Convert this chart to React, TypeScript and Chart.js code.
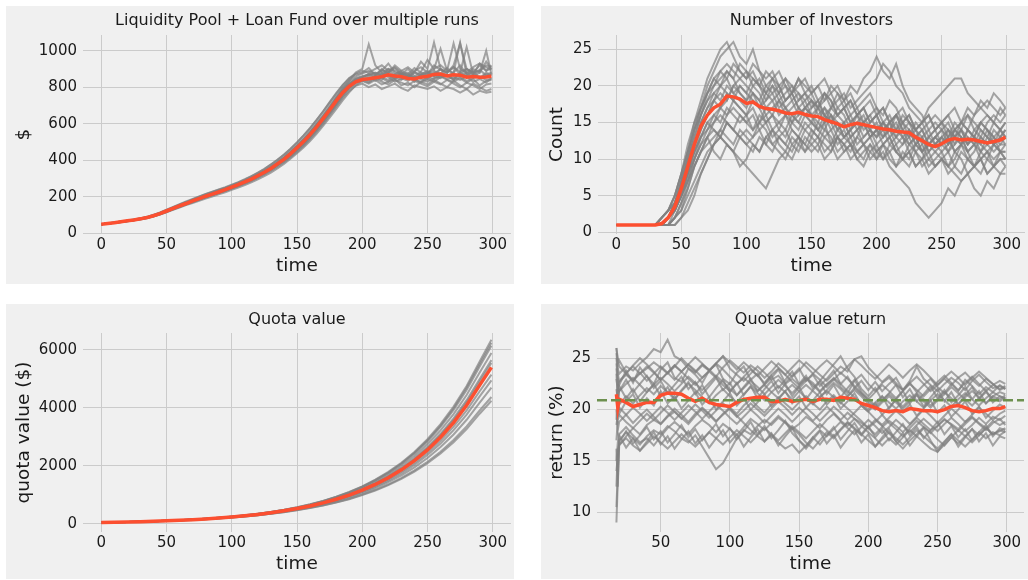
import React, { useEffect, useRef } from "react";
import { Chart, registerables } from "chart.js";

Chart.register(...registerables);

// ---------- time axes and ticks ----------
const timeSteps = [0,5,10,15,20,25,30,35,40,45,50,55,60,65,70,75,80,85,90,95,100,105,110,115,120,125,130,135,140,145,150,155,160,165,170,175,180,185,190,195,200,205,210,215,220,225,230,235,240,245,250,255,260,265,270,275,280,285,290,295,299];
const quotaTimeSteps = [0,10,20,30,40,50,60,70,80,90,100,110,120,130,140,150,160,170,180,190,200,210,220,230,240,250,260,270,280,290,299];
const returnTimeSteps = [18,19,20,25,30,35,40,45,50,55,60,65,70,75,80,85,90,95,100,105,110,115,120,125,130,135,140,145,150,155,160,165,170,175,180,185,190,195,200,205,210,215,220,225,230,235,240,245,250,255,260,265,270,275,280,285,290,295,299];

const timeTicks = [0,50,100,150,200,250,300];
const returnTimeTicks = [50,100,150,200,250,300];
const poolTicks = [0,200,400,600,800,1000];
const investorTicks = [0,5,10,15,20,25];
const quotaTicks = [0,2000,4000,6000];
const returnTicks = [10,15,20,25];

// ---------- Liquidity Pool + Loan Fund ----------
const poolMean = [50,54,58,63,68,73,79,86,96,108,122,136,150,163,177,190,203,214,226,239,253,266,281,297,315,334,355,380,405,435,468,502,540,582,628,675,725,770,805,830,842,846,852,858,868,862,858,848,845,855,860,870,872,862,868,866,855,858,855,856,860];
const poolRuns = [
  [50,54,59,64,69,75,81,89,100,113,127,142,157,171,186,200,214,226,238,250,264,278,294,312,331,352,376,402,430,462,497,535,575,620,668,718,768,812,848,870,880,905,868,890,930,880,870,900,860,885,950,900,1010,890,880,920,870,900,880,940,900],
  [50,53,57,61,66,71,76,82,91,102,115,128,141,154,166,178,190,201,213,225,238,250,264,279,295,313,332,355,380,408,438,470,505,545,588,633,680,728,772,810,835,820,840,815,830,845,810,825,800,830,815,840,820,800,835,810,790,820,800,780,790],
  [50,54,58,63,68,74,80,87,97,110,124,139,154,168,181,194,208,222,235,247,258,270,284,300,318,337,360,386,412,443,476,512,552,596,642,690,742,792,835,880,900,1035,920,880,900,870,890,910,880,870,890,860,900,880,910,870,900,880,920,890,905],
  [50,53,58,62,67,72,78,85,95,106,119,133,147,161,175,188,201,212,223,235,248,262,277,293,311,330,350,374,398,426,458,492,528,568,612,658,706,754,796,826,850,830,860,900,870,850,880,860,830,870,880,860,850,870,840,880,860,890,850,870,880],
  [50,54,59,63,68,74,80,87,98,110,124,138,152,166,180,193,206,218,230,243,257,271,286,302,320,339,362,386,413,444,478,513,551,593,638,686,736,784,822,850,860,870,880,860,900,890,870,850,880,940,900,1045,900,880,920,1040,900,880,890,920,910],
  [50,54,58,62,67,72,78,85,94,105,118,132,146,159,172,185,198,210,221,233,246,259,273,289,306,325,346,370,394,421,452,485,522,562,606,652,700,748,790,822,835,850,845,870,855,830,845,860,840,830,855,845,860,840,830,850,825,845,810,835,840],
  [50,53,57,62,66,71,77,84,93,104,117,130,144,157,170,183,196,208,219,231,244,257,271,286,303,321,341,364,388,415,445,478,515,555,598,645,694,740,780,808,820,800,815,790,805,820,795,780,810,800,790,805,780,800,790,770,790,760,780,770,775],
  [50,54,59,64,69,75,82,90,101,114,129,144,159,174,188,202,215,228,240,252,266,280,296,313,332,353,377,403,431,463,498,536,577,621,667,716,764,810,850,875,890,880,900,920,890,910,880,860,890,910,880,900,920,890,1040,900,880,910,930,890,920],
  [50,54,58,63,68,73,79,86,96,108,121,135,149,162,176,189,202,213,225,238,252,266,281,298,316,336,358,383,409,440,473,508,547,590,636,684,734,780,818,842,855,870,850,880,865,845,870,880,850,865,875,890,870,860,880,1045,870,860,880,1000,870],
  [50,53,58,62,67,73,79,86,95,107,120,134,148,162,176,189,202,215,228,241,255,268,282,298,315,333,353,377,401,430,462,496,532,573,618,664,712,760,800,832,840,860,835,855,840,870,850,835,860,845,830,850,865,845,855,840,860,830,845,825,850],
  [50,54,58,63,68,73,80,87,97,109,123,137,151,165,179,192,205,217,229,242,256,270,285,301,319,339,361,386,412,442,476,511,550,592,637,685,735,782,818,845,858,865,878,870,885,860,875,868,852,870,862,880,875,905,870,860,880,870,895,865,868],
  [50,53,57,62,67,72,78,85,94,106,119,133,147,160,173,186,199,211,223,236,250,264,279,295,313,331,351,374,398,426,457,491,528,569,614,662,712,762,805,835,845,840,865,850,830,855,840,870,845,825,845,830,855,870,840,855,835,850,860,840,845],
  [50,54,58,63,68,73,79,86,96,108,122,136,150,164,178,191,204,216,228,241,255,269,284,300,318,337,358,382,407,437,470,505,543,585,630,678,728,775,812,838,850,875,860,840,880,905,870,850,885,860,845,875,900,860,845,880,1020,870,850,880,865],
  [50,53,57,62,66,71,77,84,93,104,117,131,145,158,171,184,197,209,221,233,247,261,276,292,310,329,349,373,397,425,456,490,527,568,613,661,711,760,800,828,836,825,850,830,815,840,825,810,835,820,805,830,815,840,820,800,825,810,790,815,820],
  [50,54,59,64,69,74,81,88,99,111,126,141,156,170,184,197,211,223,235,247,260,274,289,306,324,344,367,392,419,450,484,520,560,603,649,698,748,796,835,860,875,890,870,895,880,920,890,870,905,880,870,920,895,880,910,885,900,870,930,910,895],
];

// ---------- Number of Investors ----------
const investorMean = [1,1,1,1,1,1,1,1.2,2,3.5,6,9,12,14.5,16,17,17.5,18.6,18.5,18.2,17.6,17.8,17.2,16.9,16.8,16.6,16.3,16.2,16.4,16.1,15.9,15.8,15.4,15.1,14.8,14.4,14.7,14.9,14.7,14.5,14.3,14.1,14.0,13.8,13.7,13.6,13.0,12.5,12.0,11.7,12.1,12.6,12.8,12.6,12.7,12.6,12.4,12.2,12.4,12.6,13.0];
const investorRuns = [
  [1,1,1,1,1,1,1,2,3,5,8,11,15,18,21,23,25,26,24,22,21,22,20,19,21,20,18,19,17,18,16,17,15,16,14,15,13,14,12,13,14,12,13,11,12,13,11,12,10,11,12,13,11,12,10,11,13,12,11,12,12],
  [1,1,1,1,1,1,1,1,1,2,3,5,7,9,11,12,13,12,11,13,12,11,13,12,14,13,12,11,13,12,14,13,12,11,13,12,10,11,12,13,11,12,10,9,11,10,12,11,9,10,11,9,10,12,11,9,10,8,9,10,9],
  [1,1,1,1,1,1,1,1,2,3,5,8,11,13,15,14,13,12,11,10,9,8,7,6,8,10,11,13,12,14,15,14,16,15,13,14,12,13,15,14,13,15,14,13,12,14,13,11,12,13,14,12,13,15,14,13,12,14,13,11,12],
  [1,1,1,1,1,1,1,1,2,4,6,9,12,15,17,18,20,19,18,17,16,17,15,16,14,15,16,14,13,15,14,13,15,12,13,11,12,10,11,12,10,11,9,8,7,6,4,3,2,3,4,6,5,7,8,9,8,10,9,11,10],
  [1,1,1,1,1,1,1,1,1,3,5,8,12,15,17,19,18,20,19,18,17,19,18,16,17,18,16,17,18,19,17,18,16,17,19,18,20,19,21,22,24,22,21,23,20,18,17,16,14,15,14,13,15,14,12,13,15,14,13,14,13],
  [1,1,1,1,1,1,1,1,2,3,6,9,11,14,16,18,17,19,18,20,19,18,17,19,18,16,17,15,16,17,16,15,17,16,14,15,16,14,15,13,14,15,13,14,15,16,14,15,17,18,19,20,21,21,19,18,17,16,15,14,15],
  [1,1,1,1,1,1,1,2,3,4,6,8,10,12,13,11,10,12,11,9,10,12,11,13,12,11,10,12,11,13,12,11,13,12,10,11,12,10,9,11,10,12,11,9,10,11,9,10,11,9,10,8,9,11,10,9,10,8,9,8,9],
  [1,1,1,1,1,1,1,1,2,4,7,10,13,16,19,21,22,23,22,21,22,21,20,22,21,19,20,18,19,17,18,16,17,15,16,17,15,16,14,15,16,14,15,13,14,12,13,14,12,13,12,14,13,12,14,13,15,14,12,13,14],
  [1,1,1,1,1,1,1,1,1,1,2,4,6,8,10,12,14,16,17,16,15,16,14,15,16,14,13,15,14,16,15,14,13,14,12,13,14,12,13,14,12,13,14,12,13,11,12,13,11,12,13,11,12,14,13,12,11,13,12,14,13],
  [1,1,1,1,1,1,1,1,2,3,5,7,10,13,15,16,17,18,20,19,18,19,17,18,20,19,17,18,16,17,18,17,19,18,16,17,15,16,17,15,16,14,15,16,14,15,13,14,15,16,15,16,14,15,17,16,18,17,19,18,17],
  [1,1,1,1,1,1,1,1,2,4,7,11,14,17,20,22,24,25,26,24,23,25,22,21,22,20,21,19,20,21,19,20,18,19,17,18,16,17,15,16,17,15,14,16,15,13,14,12,13,14,12,13,11,12,13,12,10,11,12,13,12],
  [1,1,1,1,1,1,1,1,1,2,4,6,9,11,13,14,13,15,14,13,14,13,15,14,12,13,14,12,13,11,12,13,11,12,14,13,12,11,10,12,11,10,12,11,10,9,11,10,12,11,10,9,8,7,8,6,5,7,6,8,8],
  [1,1,1,1,1,1,1,2,3,5,8,11,14,16,18,19,20,21,19,20,19,21,20,18,19,20,18,19,21,19,20,18,19,17,18,19,17,18,19,20,21,23,22,20,19,17,16,15,16,14,15,13,14,15,16,14,15,16,15,17,16],
  [1,1,1,1,1,1,1,1,2,3,5,8,11,13,14,16,15,17,16,15,16,14,15,17,16,15,14,16,15,14,13,15,14,16,15,13,14,15,13,14,13,14,12,13,15,14,12,11,13,12,11,12,14,13,11,12,14,13,12,11,11],
  [1,1,1,1,1,1,1,2,3,4,6,9,12,14,16,18,19,18,20,21,20,19,18,20,19,17,18,19,17,16,17,18,16,15,17,16,14,15,16,14,15,13,14,15,13,12,13,11,12,13,12,11,13,12,14,13,12,11,10,11,10],
  [1,1,1,1,1,1,1,1,1,2,4,7,10,12,14,15,17,16,18,17,16,18,17,15,16,18,17,16,15,17,16,14,15,17,16,15,13,14,15,16,14,15,16,14,13,14,12,13,11,12,13,14,12,13,12,14,13,15,16,15,16],
  [1,1,1,1,1,1,1,1,2,3,6,10,13,16,18,20,21,22,21,23,22,20,21,19,20,18,19,20,18,19,18,17,19,18,16,17,18,16,17,15,16,17,15,14,16,15,14,13,14,12,13,12,14,13,11,12,13,12,14,13,14],
  [1,1,1,1,1,1,1,1,1,2,3,6,9,11,12,13,14,13,12,14,13,12,11,13,14,12,11,10,12,11,13,12,14,13,11,12,13,11,12,10,11,12,13,11,10,12,11,9,10,9,10,11,9,8,10,9,11,10,12,11,11],
  [1,1,1,1,1,1,1,2,3,5,8,12,15,17,19,20,22,21,23,22,21,23,22,20,21,22,20,19,21,20,19,20,21,19,20,18,19,17,18,19,17,16,18,17,15,16,14,15,16,14,15,14,13,14,16,15,14,13,15,14,15],
  [1,1,1,1,1,1,1,1,2,3,5,7,9,11,13,15,16,15,14,16,15,14,16,15,13,14,16,15,17,16,15,17,16,14,15,13,14,16,15,13,14,13,15,16,14,13,15,14,12,13,14,15,13,14,12,13,11,12,13,12,13],
  [1,1,1,1,1,1,1,1,1,1,2,3,5,8,10,12,13,15,14,13,12,13,14,12,11,13,12,14,13,12,11,12,10,11,13,12,11,13,12,11,12,10,11,12,10,11,9,10,8,9,10,9,11,10,8,9,10,11,9,10,10],
  [1,1,1,1,1,1,1,1,2,4,7,10,14,17,19,21,20,22,21,19,18,20,19,17,18,19,21,20,19,18,19,17,18,20,19,17,18,16,17,18,16,17,15,16,17,15,14,15,13,14,15,16,17,15,14,16,17,18,17,16,17],
];

// ---------- Quota value ----------
const quotaMean = [50,58,68,80,94,110,128,150,176,206,242,283,331,388,455,532,622,728,852,997,1166,1364,1596,1867,2184,2555,2990,3498,4093,4790,5400];
const quotaRuns = [
  [50,58,69,81,96,113,132,156,184,216,256,300,353,416,491,577,678,798,939,1105,1299,1528,1797,2113,2485,2923,3441,4047,4760,5600,6350],
  [50,58,69,81,96,112,131,155,182,214,253,297,349,411,484,568,667,784,921,1083,1272,1495,1756,2063,2424,2847,3346,3932,4621,5432,6150],
  [50,58,68,81,95,112,130,153,180,212,249,292,343,403,474,556,652,766,899,1055,1237,1451,1703,1999,2346,2752,3229,3788,4449,5221,5900],
  [50,58,68,80,94,111,129,151,178,208,246,288,337,396,465,544,637,747,875,1026,1201,1408,1649,1932,2265,2652,3110,3641,4269,5001,5650],
  [50,58,68,80,94,110,128,151,177,208,244,286,334,392,460,538,629,737,863,1011,1187,1390,1628,1906,2232,2614,3062,3586,4200,4919,5550],
  [50,58,68,80,93,109,127,148,174,203,238,278,325,380,445,520,606,709,828,968,1130,1320,1542,1802,2103,2458,2870,3355,3917,4579,5150],
  [50,58,68,79,93,108,126,147,172,201,235,274,320,374,437,509,594,693,809,943,1101,1284,1497,1747,2038,2376,2772,3236,3774,4402,4950],
  [50,58,67,79,92,107,125,145,170,198,231,269,313,365,426,496,578,673,784,913,1062,1237,1441,1678,1955,2276,2652,3085,3594,4187,4700],
  [50,58,67,78,91,106,123,143,167,194,226,262,305,354,413,479,557,646,751,873,1014,1179,1369,1591,1848,2146,2494,2897,3368,3913,4380],
  [50,58,67,78,91,106,122,142,165,192,223,259,301,350,407,472,547,636,738,856,995,1154,1339,1553,1804,2093,2431,2819,3274,3803,4250],
  [50,58,69,81,96,112,131,154,181,213,254,299,351,414,487,572,672,791,930,1094,1285,1510,1776,2087,2455,2885,3394,3991,4695,5518,6250],
];

// ---------- Quota value return ----------
const targetReturn = 20.9;
const returnMean = [21.5,20.2,21.0,20.7,20.3,20.5,20.7,20.7,21.4,21.6,21.6,21.5,21.1,20.8,21.1,20.7,20.5,20.4,20.3,20.7,21.0,21.1,21.2,21.2,20.8,20.8,21.0,20.8,20.9,21.0,20.8,21.0,21.0,20.9,21.2,21.1,21.0,20.6,20.4,20.2,19.9,19.8,19.9,19.8,20.1,20.0,19.9,19.9,19.8,20.0,20.3,20.4,20.2,19.9,19.8,19.9,20.1,20.1,20.3];
const returnRuns = [
  [25.5,24.0,23.5,24.2,23.8,24.5,25.1,25.9,25.6,26.8,25.2,24.8,24.0,23.6,24.3,23.8,24.5,25.2,24.0,23.4,22.8,23.5,24.2,23.6,22.9,23.3,22.5,23.0,22.4,23.1,22.6,21.8,22.5,23.0,22.2,21.6,22.8,23.4,22.5,21.8,22.6,23.1,22.4,21.9,22.8,24.2,23.0,22.4,21.8,22.5,23.1,22.6,21.9,22.8,23.4,22.7,22.1,22.3,22.0],
  [16.2,12.5,17.0,17.8,17.2,16.6,17.4,18.0,17.6,18.4,17.9,17.2,16.8,17.5,16.4,15.3,14.2,14.8,16.0,17.2,18.0,17.6,18.4,19.0,18.5,19.2,18.7,18.1,18.6,19.3,18.8,18.2,19.0,19.6,18.9,18.4,19.1,18.7,18.2,17.6,18.3,18.9,18.4,17.8,18.5,19.2,18.6,18.0,18.4,19.0,18.6,18.1,18.8,19.3,18.7,18.2,18.9,18.5,18.8],
  [9.0,13.0,16.5,17.4,18.2,17.6,18.5,19.0,18.6,19.3,19.8,19.2,18.6,19.4,20.1,19.5,18.8,19.6,20.2,19.6,20.4,21.0,20.3,19.7,20.5,21.2,20.6,20.0,20.7,21.3,20.6,20.0,20.8,21.4,20.7,20.1,19.5,18.9,18.2,18.8,19.5,18.7,18.1,17.4,18.2,18.9,18.3,17.7,18.4,19.1,18.5,17.9,18.6,19.2,18.6,18.0,18.7,19.1,18.5],
  [26.0,24.5,24.8,23.6,24.2,23.5,24.0,24.6,24.1,23.5,24.2,25.0,24.3,23.7,24.4,23.9,23.2,24.1,24.8,24.2,23.6,24.3,23.8,23.1,23.7,24.5,23.9,23.2,23.8,24.6,24.0,23.4,22.8,23.5,24.2,23.7,24.9,25.2,24.1,23.4,22.7,23.3,22.6,21.9,22.6,23.2,22.5,21.8,22.4,23.0,22.4,23.1,23.6,22.9,22.3,23.0,22.5,21.9,22.2],
  [15.0,16.8,17.6,18.3,17.5,16.8,17.2,16.5,17.4,18.2,18.8,18.2,17.6,18.4,19.0,18.5,17.8,18.6,18.1,17.5,18.3,19.1,18.6,18.0,18.7,19.4,18.8,18.2,17.6,16.8,16.2,17.0,17.8,17.2,18.0,18.7,18.1,17.5,18.3,19.0,18.4,17.7,16.9,16.2,17.0,17.6,18.3,17.8,17.1,16.5,17.3,18.0,17.4,16.8,17.5,18.2,17.6,18.0,17.8],
  [22.0,21.0,20.5,21.3,20.6,21.4,22.1,21.5,22.3,21.7,21.0,21.8,22.5,21.9,21.2,20.6,21.4,22.0,21.3,20.7,21.5,22.2,21.6,20.9,21.7,22.3,21.7,21.0,21.8,22.4,21.8,21.2,21.9,22.6,22.0,21.3,22.1,21.5,20.8,20.2,20.9,21.5,20.9,20.3,21.0,21.6,21.0,20.4,21.0,21.7,21.1,20.5,21.2,21.8,21.2,20.6,21.3,21.0,21.4],
  [18.5,19.5,20.2,19.5,18.7,19.4,20.0,19.3,18.6,19.4,20.1,19.5,18.8,19.6,20.2,19.6,18.9,19.5,20.1,19.4,18.7,18.0,17.4,16.9,17.5,16.8,16.2,16.6,15.8,16.5,17.3,18.0,17.4,18.1,18.8,18.2,17.6,18.3,19.0,18.4,17.7,18.3,19.0,18.4,17.8,18.5,19.1,18.5,17.9,18.6,19.2,18.6,17.9,18.5,19.2,18.6,19.3,19.0,19.4],
  [25.0,23.5,22.8,23.5,22.9,23.6,22.8,23.5,24.2,23.6,22.9,23.7,24.4,23.8,23.1,23.8,24.5,23.9,23.2,22.5,23.2,23.9,23.3,22.6,23.4,24.0,23.4,22.7,22.1,22.8,23.5,22.9,22.2,22.9,23.6,23.0,22.3,21.6,21.0,21.7,22.4,21.8,21.1,21.8,22.5,21.9,21.3,22.0,22.7,23.3,22.6,21.9,22.6,23.2,22.5,21.8,22.4,22.8,22.5],
  [12.5,16.0,16.6,17.2,16.5,16.0,16.7,17.4,16.8,16.2,16.9,17.6,17.0,16.4,17.1,17.8,17.2,16.6,17.3,18.0,17.4,16.8,17.5,18.2,17.6,17.0,17.7,18.4,17.8,17.2,17.9,18.6,18.0,17.4,18.1,18.8,18.2,17.6,17.0,16.4,17.1,17.8,17.2,16.6,17.3,18.0,17.4,16.8,16.2,16.9,17.6,17.0,16.4,17.1,17.8,17.2,17.8,17.5,17.9],
  [24.0,22.5,21.8,22.5,23.1,22.4,21.7,22.4,23.1,22.5,21.8,22.5,23.2,22.6,21.9,22.6,23.3,22.7,22.0,21.4,22.1,22.8,22.2,21.5,22.2,22.9,22.3,21.6,22.3,23.0,22.4,21.7,22.4,23.1,22.5,21.8,21.2,20.6,20.0,20.7,21.3,20.7,20.1,20.8,21.4,20.8,20.2,20.9,21.5,20.9,20.3,21.0,21.6,21.0,20.4,21.1,21.7,21.3,21.0],
  [20.0,18.0,18.8,19.5,20.2,19.6,18.9,19.6,20.3,19.7,19.0,19.7,20.4,19.8,19.1,19.8,20.5,19.9,19.2,18.6,19.3,20.0,19.4,18.7,19.4,20.1,19.5,18.8,19.5,20.2,19.6,18.9,19.6,20.3,19.7,19.0,19.7,20.4,19.8,19.1,18.5,19.2,19.9,19.3,18.6,19.3,20.0,19.4,18.7,19.4,20.1,19.5,18.8,19.5,20.2,19.6,19.0,19.6,19.9],
  [26.0,25.0,24.2,23.5,24.3,25.0,24.4,23.7,22.9,23.6,24.3,23.7,23.0,22.4,23.1,23.7,23.1,22.4,21.8,22.5,23.1,22.5,21.8,22.4,21.7,21.1,21.8,22.4,21.8,21.1,20.5,21.2,21.8,21.2,20.6,21.3,21.9,21.3,20.6,20.0,20.7,21.3,20.7,20.1,20.8,21.4,20.8,20.2,20.9,21.5,22.2,21.6,21.0,20.4,21.1,21.7,21.1,20.8,21.2],
  [17.0,19.0,19.5,18.8,18.2,18.9,19.6,19.0,19.7,20.4,19.8,19.1,19.8,20.5,19.9,19.2,19.9,20.6,20.0,19.3,19.9,20.6,20.0,19.4,20.1,20.8,20.2,19.5,20.2,19.6,18.9,19.6,20.3,19.7,19.0,19.7,19.1,18.4,17.8,17.2,16.5,17.2,16.6,17.3,18.0,17.4,16.8,16.2,15.9,16.6,17.3,16.7,17.4,18.1,17.5,18.2,17.6,17.9,18.2],
  [23.0,22.0,22.7,23.4,22.8,23.5,24.2,23.6,22.9,23.6,24.3,23.7,24.4,25.1,24.5,23.8,24.5,25.2,24.6,23.9,24.6,24.0,23.3,24.0,24.7,24.1,23.4,24.1,24.8,24.2,23.5,24.2,24.8,24.2,23.5,24.2,24.9,24.3,23.6,23.0,23.7,24.4,23.8,23.1,23.8,24.4,23.8,23.1,22.4,23.1,23.7,23.1,22.4,23.1,23.7,23.1,22.5,22.0,22.3],
  [24.5,23.0,22.4,23.8,22.6,24.1,23.2,22.5,23.9,24.6,23.1,22.7,24.0,23.4,22.6,23.8,24.4,23.0,22.5,23.6,24.2,22.9,23.5,22.4,23.1,23.9,22.6,23.3,24.0,22.8,23.4,22.3,23.0,23.8,22.5,23.2,22.1,22.8,21.9,22.7,21.8,22.5,23.1,21.9,22.6,21.7,22.4,23.0,22.2,21.6,22.5,21.8,22.9,22.3,21.5,22.2,21.7,22.4,22.0],
  [14.0,15.5,16.8,17.9,16.7,17.5,18.3,17.1,17.9,16.8,17.6,18.5,17.3,18.1,17.0,17.8,18.6,17.4,18.2,17.1,17.9,18.8,17.6,18.4,17.2,18.0,18.9,17.7,17.0,16.4,17.3,16.6,17.5,18.3,17.1,17.9,18.7,17.6,18.4,17.3,18.1,17.0,17.8,18.6,17.5,18.3,17.2,18.0,18.8,17.6,18.4,17.3,18.1,17.0,17.8,18.5,17.4,18.2,18.0],
  [21.0,22.5,19.6,20.8,21.5,20.2,21.1,20.4,21.8,20.6,21.3,20.1,20.9,21.7,20.5,21.2,20.0,20.8,21.6,20.4,21.1,20.0,20.7,21.5,20.3,21.0,21.8,20.6,21.3,20.2,20.9,21.7,20.5,21.2,20.1,20.8,21.6,20.4,19.8,20.6,19.5,20.2,21.0,19.8,20.5,19.4,20.1,20.9,19.7,20.4,19.3,20.0,20.8,19.6,20.3,19.2,19.9,20.5,20.2],
  [23.5,21.0,21.8,22.9,21.7,22.5,23.3,22.1,22.8,21.6,22.4,23.2,22.0,22.7,21.5,22.3,23.1,21.9,22.6,21.4,22.2,23.0,21.8,22.5,23.3,22.1,22.9,23.7,22.5,23.3,22.1,22.8,23.6,24.4,25.2,24.0,23.2,22.0,21.3,22.1,20.9,21.6,22.4,21.2,22.0,20.8,21.5,22.3,21.1,21.9,20.7,21.4,22.2,21.0,21.8,20.6,21.3,21.7,21.5],
  [10.5,14.0,17.5,16.3,17.2,16.0,16.9,17.8,16.6,17.4,16.2,17.1,17.9,16.7,17.5,16.3,17.2,18.0,16.8,17.6,16.4,17.3,18.1,16.9,17.7,16.5,17.4,18.2,17.0,16.2,17.1,17.9,16.7,17.5,16.3,17.2,18.0,16.8,17.6,16.4,17.3,18.1,16.9,17.7,16.5,17.4,18.2,17.0,15.9,16.8,17.6,16.4,17.3,18.1,16.9,17.7,16.5,17.4,17.2],
  [19.0,20.5,22.3,21.1,22.0,20.8,21.7,22.5,21.3,22.2,21.0,21.9,22.7,21.5,22.4,21.2,22.1,22.9,21.7,22.6,21.4,22.3,21.1,22.0,22.8,21.6,22.5,21.3,22.2,21.0,21.9,22.7,21.5,22.4,21.2,22.1,22.9,21.7,21.0,20.4,21.3,20.1,21.0,21.8,20.6,21.5,20.3,21.2,22.0,20.8,21.7,20.5,21.4,22.2,21.0,21.9,20.7,21.3,21.1],
];

// ---------- rendering ----------
const FONT = "'DejaVu Sans', sans-serif";
const TEXT = "#1a1a1a";

type PanelSpec = {
  left: number; top: number; width: number; height: number;
  title: string; yLabel: string;
  xs: number[]; runs: number[][]; mean: number[];
  xTicks: number[]; yTicks: number[];
  xMin: number; xMax: number; yMin: number; yMax: number;
  yAxisWidth: number; xAxisHeight: number; padRight: number;
  titlePad: { top: number; bottom: number };
  yTitlePad: number; xTitlePad: number;
  target?: number;
};

const targetLinePlugin = {
  id: "targetLine",
  afterDatasetsDraw(chart: any, _args: any, opts: any) {
    if (!opts || typeof opts.value !== "number") return;
    const { ctx, chartArea, scales } = chart;
    const y = scales.y.getPixelForValue(opts.value);
    ctx.save();
    ctx.strokeStyle = "#6d904f";
    ctx.lineWidth = 2.5;
    ctx.setLineDash([10, 4]);
    ctx.beginPath();
    ctx.moveTo(chartArea.left, y);
    ctx.lineTo(chartArea.right, y);
    ctx.stroke();
    ctx.restore();
  },
};

function buildConfig(spec: PanelSpec): any {
  const grey = spec.runs.map((run) => ({
    data: run.map((y, i) => ({ x: spec.xs[i], y })),
    borderColor: "rgba(128,128,128,0.7)",
    borderWidth: 2,
    pointRadius: 0,
    fill: false,
    order: 1,
  }));
  const mean = {
    data: spec.mean.map((y, i) => ({ x: spec.xs[i], y })),
    borderColor: "#fc4f30",
    borderWidth: 3.5,
    pointRadius: 0,
    fill: false,
    order: 0,
  };
  const tickFont = { family: FONT, size: 15 };
  return {
    type: "line",
    data: { datasets: [mean, ...grey] },
    plugins: [targetLinePlugin],
    options: {
      responsive: false,
      animation: false,
      events: [],
      layout: { padding: { left: 0, top: 0, right: spec.padRight, bottom: 0 } },
      plugins: {
        legend: { display: false },
        tooltip: { enabled: false },
        title: {
          display: true,
          text: spec.title,
          color: TEXT,
          fullSize: false,
          font: { family: FONT, size: 16, weight: "normal" },
          padding: spec.titlePad,
        },
        targetLine: { value: spec.target },
      },
      scales: {
        x: {
          type: "linear",
          min: spec.xMin,
          max: spec.xMax,
          afterBuildTicks: (s: any) => { s.ticks = spec.xTicks.map((v) => ({ value: v })); },
          afterFit: (s: any) => { s.height = spec.xAxisHeight; },
          ticks: {
            padding: 2,
            maxRotation: 0,
            autoSkip: false,
            color: TEXT,
            font: tickFont,
            callback: (v: any) => String(v),
          },
          grid: { color: "#cbcbcb", lineWidth: 1, drawTicks: false },
          border: { display: false },
          title: {
            display: true,
            text: "time",
            color: TEXT,
            font: { family: FONT, size: 18.5 },
            padding: { top: 0, bottom: spec.xTitlePad },
          },
        },
        y: {
          type: "linear",
          min: spec.yMin,
          max: spec.yMax,
          afterBuildTicks: (s: any) => { s.ticks = spec.yTicks.map((v) => ({ value: v })); },
          afterFit: (s: any) => { s.width = spec.yAxisWidth; },
          ticks: {
            padding: 6,
            autoSkip: false,
            color: TEXT,
            font: tickFont,
            callback: (v: any) => String(v),
          },
          grid: { color: "#cbcbcb", lineWidth: 1, drawTicks: false },
          border: { display: false },
          title: {
            display: true,
            text: spec.yLabel,
            color: TEXT,
            font: { family: FONT, size: 18.5 },
            padding: { top: spec.yTitlePad, bottom: 0 },
          },
        },
      },
    },
  };
}

const panels: PanelSpec[] = [
  {
    left: 6, top: 6, width: 508, height: 278,
    title: "Liquidity Pool + Loan Fund over multiple runs", yLabel: "$",
    xs: timeSteps, runs: poolRuns, mean: poolMean,
    xTicks: timeTicks, yTicks: poolTicks,
    xMin: -14, xMax: 314, yMin: -4, yMax: 1086,
    yAxisWidth: 77, xAxisHeight: 50, padRight: 3,
    titlePad: { top: 5.4, bottom: 4.4 }, yTitlePad: 7.5, xTitlePad: 6.6,
  },
  {
    left: 541, top: 6, width: 487, height: 278,
    title: "Number of Investors", yLabel: "Count",
    xs: timeSteps, runs: investorRuns, mean: investorMean,
    xTicks: timeTicks, yTicks: investorTicks,
    xMin: -14, xMax: 314, yMin: -0.23, yMax: 26.95,
    yAxisWidth: 57, xAxisHeight: 50, padRight: 3,
    titlePad: { top: 5.4, bottom: 4.4 }, yTitlePad: 5, xTitlePad: 6.6,
  },
  {
    left: 6, top: 304, width: 508, height: 275,
    title: "Quota value", yLabel: "quota value ($)",
    xs: quotaTimeSteps, runs: quotaRuns, mean: quotaMean,
    xTicks: timeTicks, yTicks: quotaTicks,
    xMin: -14, xMax: 314, yMin: -276, yMax: 6586,
    yAxisWidth: 77, xAxisHeight: 47, padRight: 3,
    titlePad: { top: 6.5, bottom: 3.3 }, yTitlePad: 6.6, xTitlePad: 3.9,
  },
  {
    left: 541, top: 304, width: 487, height: 275,
    title: "Quota value return", yLabel: "return (%)",
    xs: returnTimeSteps, runs: returnRuns, mean: returnMean,
    xTicks: returnTimeTicks, yTicks: returnTicks,
    xMin: 3.97, xMax: 312.5, yMin: 8.08, yMax: 27.46,
    yAxisWidth: 56, xAxisHeight: 47, padRight: 4,
    titlePad: { top: 6.5, bottom: 3.3 }, yTitlePad: 5, xTitlePad: 3.9,
    target: targetReturn,
  },
];

function Panel({ spec }: { spec: PanelSpec }) {
  const ref = useRef<HTMLCanvasElement | null>(null);
  useEffect(() => {
    if (!ref.current) return;
    const chart = new Chart(ref.current, buildConfig(spec));
    return () => chart.destroy();
  }, [spec]);
  return (
    <div style={{ position: "absolute", left: spec.left, top: spec.top, width: spec.width, height: spec.height }}>
      <canvas
        ref={ref}
        width={spec.width}
        height={spec.height}
        style={{ display: "block", width: spec.width, height: spec.height, background: "#f0f0f0" }}
      />
    </div>
  );
}

export default function App() {
  return (
    <div style={{ position: "absolute", left: 0, top: 0, width: 1028, height: 580, background: "#ffffff", overflow: "hidden" }}>
      {panels.map((p, i) => (
        <Panel key={i} spec={p} />
      ))}
    </div>
  );
}
